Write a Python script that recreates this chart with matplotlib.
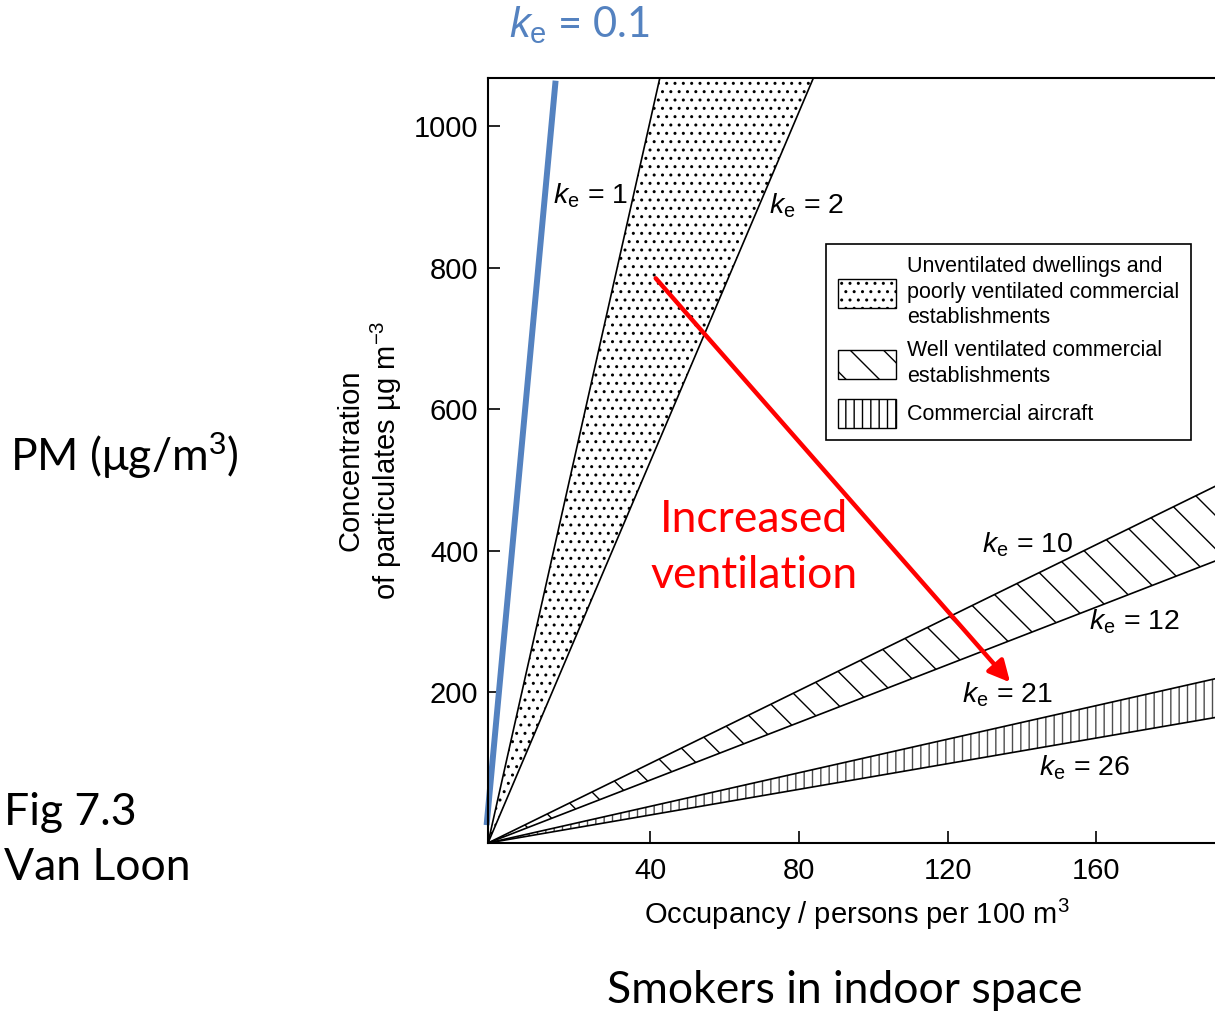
import matplotlib
matplotlib.use("Agg")
import matplotlib.pyplot as plt
from matplotlib.patches import Patch

plt.rcParams['font.family'] = ['Liberation Sans', 'DejaVu Sans']
plt.rcParams['mathtext.fontset'] = 'custom'
plt.rcParams['mathtext.rm'] = 'Liberation Sans'
plt.rcParams['mathtext.it'] = 'Liberation Sans:italic'

# axis ranges (occupancy, concentration)
x_range = [-3.6, 192.7]
y_range = [-13, 1068]
x_ticks = [40, 80, 120, 160]
y_ticks = [200, 400, 600, 800, 1000]

# end points of the k_e lines (they all start at the origin corner)
ke_names = ['1', '2', '10', '12', '21', '26']
ke_end_x = [42.6, 83.9, 192.7, 192.7, 192.7, 192.7]
ke_end_y = [1068, 1068, 493, 387, 220, 165]

# k_e = 0.1 line added on top (blue)
ke01_x = [-3.9, 14.5]
ke01_y = [16.5, 1060]

# label positions for k_e values
ke_label_x = [23.9, 82.0, 141.4, 170.3, 136.0, 156.8]
ke_label_y = [902, 888, 408, 299, 196, 94]

legend_labels = ['Unventilated dwellings and\npoorly ventilated commercial\nestablishments',
                 'Well ventilated commercial\nestablishments',
                 'Commercial aircraft']

# arrow for "Increased ventilation"
arrow_start = (41.5, 785)
arrow_end = (136.8, 214)

fig = plt.figure(figsize=(12.15, 10.17), dpi=100)
ax = fig.add_axes([488 / 1215, 1 - 843 / 1017, (1218 - 488) / 1215, (843 - 78) / 1017])

ax.set_xlim(*x_range)
ax.set_ylim(*y_range)
x0, y0 = x_range[0], y_range[0]

# bands
bands = [(0, 1, '..', 'black'), (2, 3, '\\', 'black'), (4, 5, '||', '0.3')]
for i, j, hatch, hcol in bands:
    xs = [x0, ke_end_x[i], ke_end_x[j]]
    ys = [y0, ke_end_y[i], ke_end_y[j]]
    ax.fill(xs, ys, facecolor='white', edgecolor=hcol, hatch=hatch, linewidth=0)

for ex, ey in zip(ke_end_x, ke_end_y):
    ax.plot([x0, ex], [y0, ey], color='black', lw=1.2, solid_capstyle='butt')

ax.plot(ke01_x, ke01_y, color='#5482C0', lw=4.3, clip_on=False)

for name, lx, ly in zip(ke_names, ke_label_x, ke_label_y):
    ax.text(lx, ly, r'$k_\mathrm{e}$ = ' + name, fontsize=20.5, ha='center', va='center')

ax.annotate('', xy=arrow_end, xytext=arrow_start,
            arrowprops=dict(arrowstyle='-|>', color='red', lw=3.2, mutation_scale=32,
                            shrinkA=0, shrinkB=0))
ax.text(67.9, 405, 'Increased\nventilation', color='red', fontsize=32,
        family=['Lato', 'DejaVu Sans'], ha='center', va='center', linespacing=1.45)

ax.set_xticks(x_ticks)
ax.set_yticks(y_ticks)
ax.tick_params(axis='both', direction='in', length=8.5, width=1.2, labelsize=21)
ax.tick_params(axis='x', pad=10)
ax.tick_params(axis='y', pad=7)
ax.spines['right'].set_visible(False)
for s in ['left', 'bottom', 'top']:
    ax.spines[s].set_linewidth(1.5)

ax.set_xlabel('Occupancy / persons per 100 m$^3$', fontsize=21)
ax.set_ylabel('Concentration\nof particulates \u00b5g m$^{-3}$', fontsize=21, linespacing=1.15)
ax.xaxis.set_label_coords(0.505, -0.07)
ax.yaxis.set_label_coords(-0.115, 0.5)

handles = [Patch(facecolor='white', edgecolor='black', hatch='..'),
           Patch(facecolor='white', edgecolor='black', hatch='\\'),
           Patch(facecolor='white', edgecolor='black', hatch='||')]
leg = ax.legend(handles, legend_labels, loc='upper left', bbox_to_anchor=(0.4635, 0.783),
                borderaxespad=0, fontsize=15.5, fancybox=False, framealpha=1,
                edgecolor='black', handlelength=2.7, handleheight=1.7,
                labelspacing=0.55, handletextpad=0.5, borderpad=0.55)
leg.get_frame().set_linewidth(1.2)
for t in leg.get_texts():
    t.set_linespacing(1.3)

slide_font = ['Lato', 'DejaVu Sans']
fig.text(0.477, 0.975, r'$k_\mathrm{e}$ = 0.1', color='#5482C0', fontsize=30,
         family=slide_font, ha='center', va='center')
fig.text(0.008, 0.551, 'PM (\u03bcg/m$^3$)', fontsize=32, family=slide_font,
         ha='left', va='center')
fig.text(0.003, 0.174, 'Fig 7.3\nVan Loon', fontsize=32, family=slide_font,
         ha='left', va='center', linespacing=1.45)
fig.text(0.695, 0.0265, 'Smokers in indoor space', fontsize=32, family=slide_font,
         ha='center', va='center')

fig.savefig('out.png', dpi=100)
